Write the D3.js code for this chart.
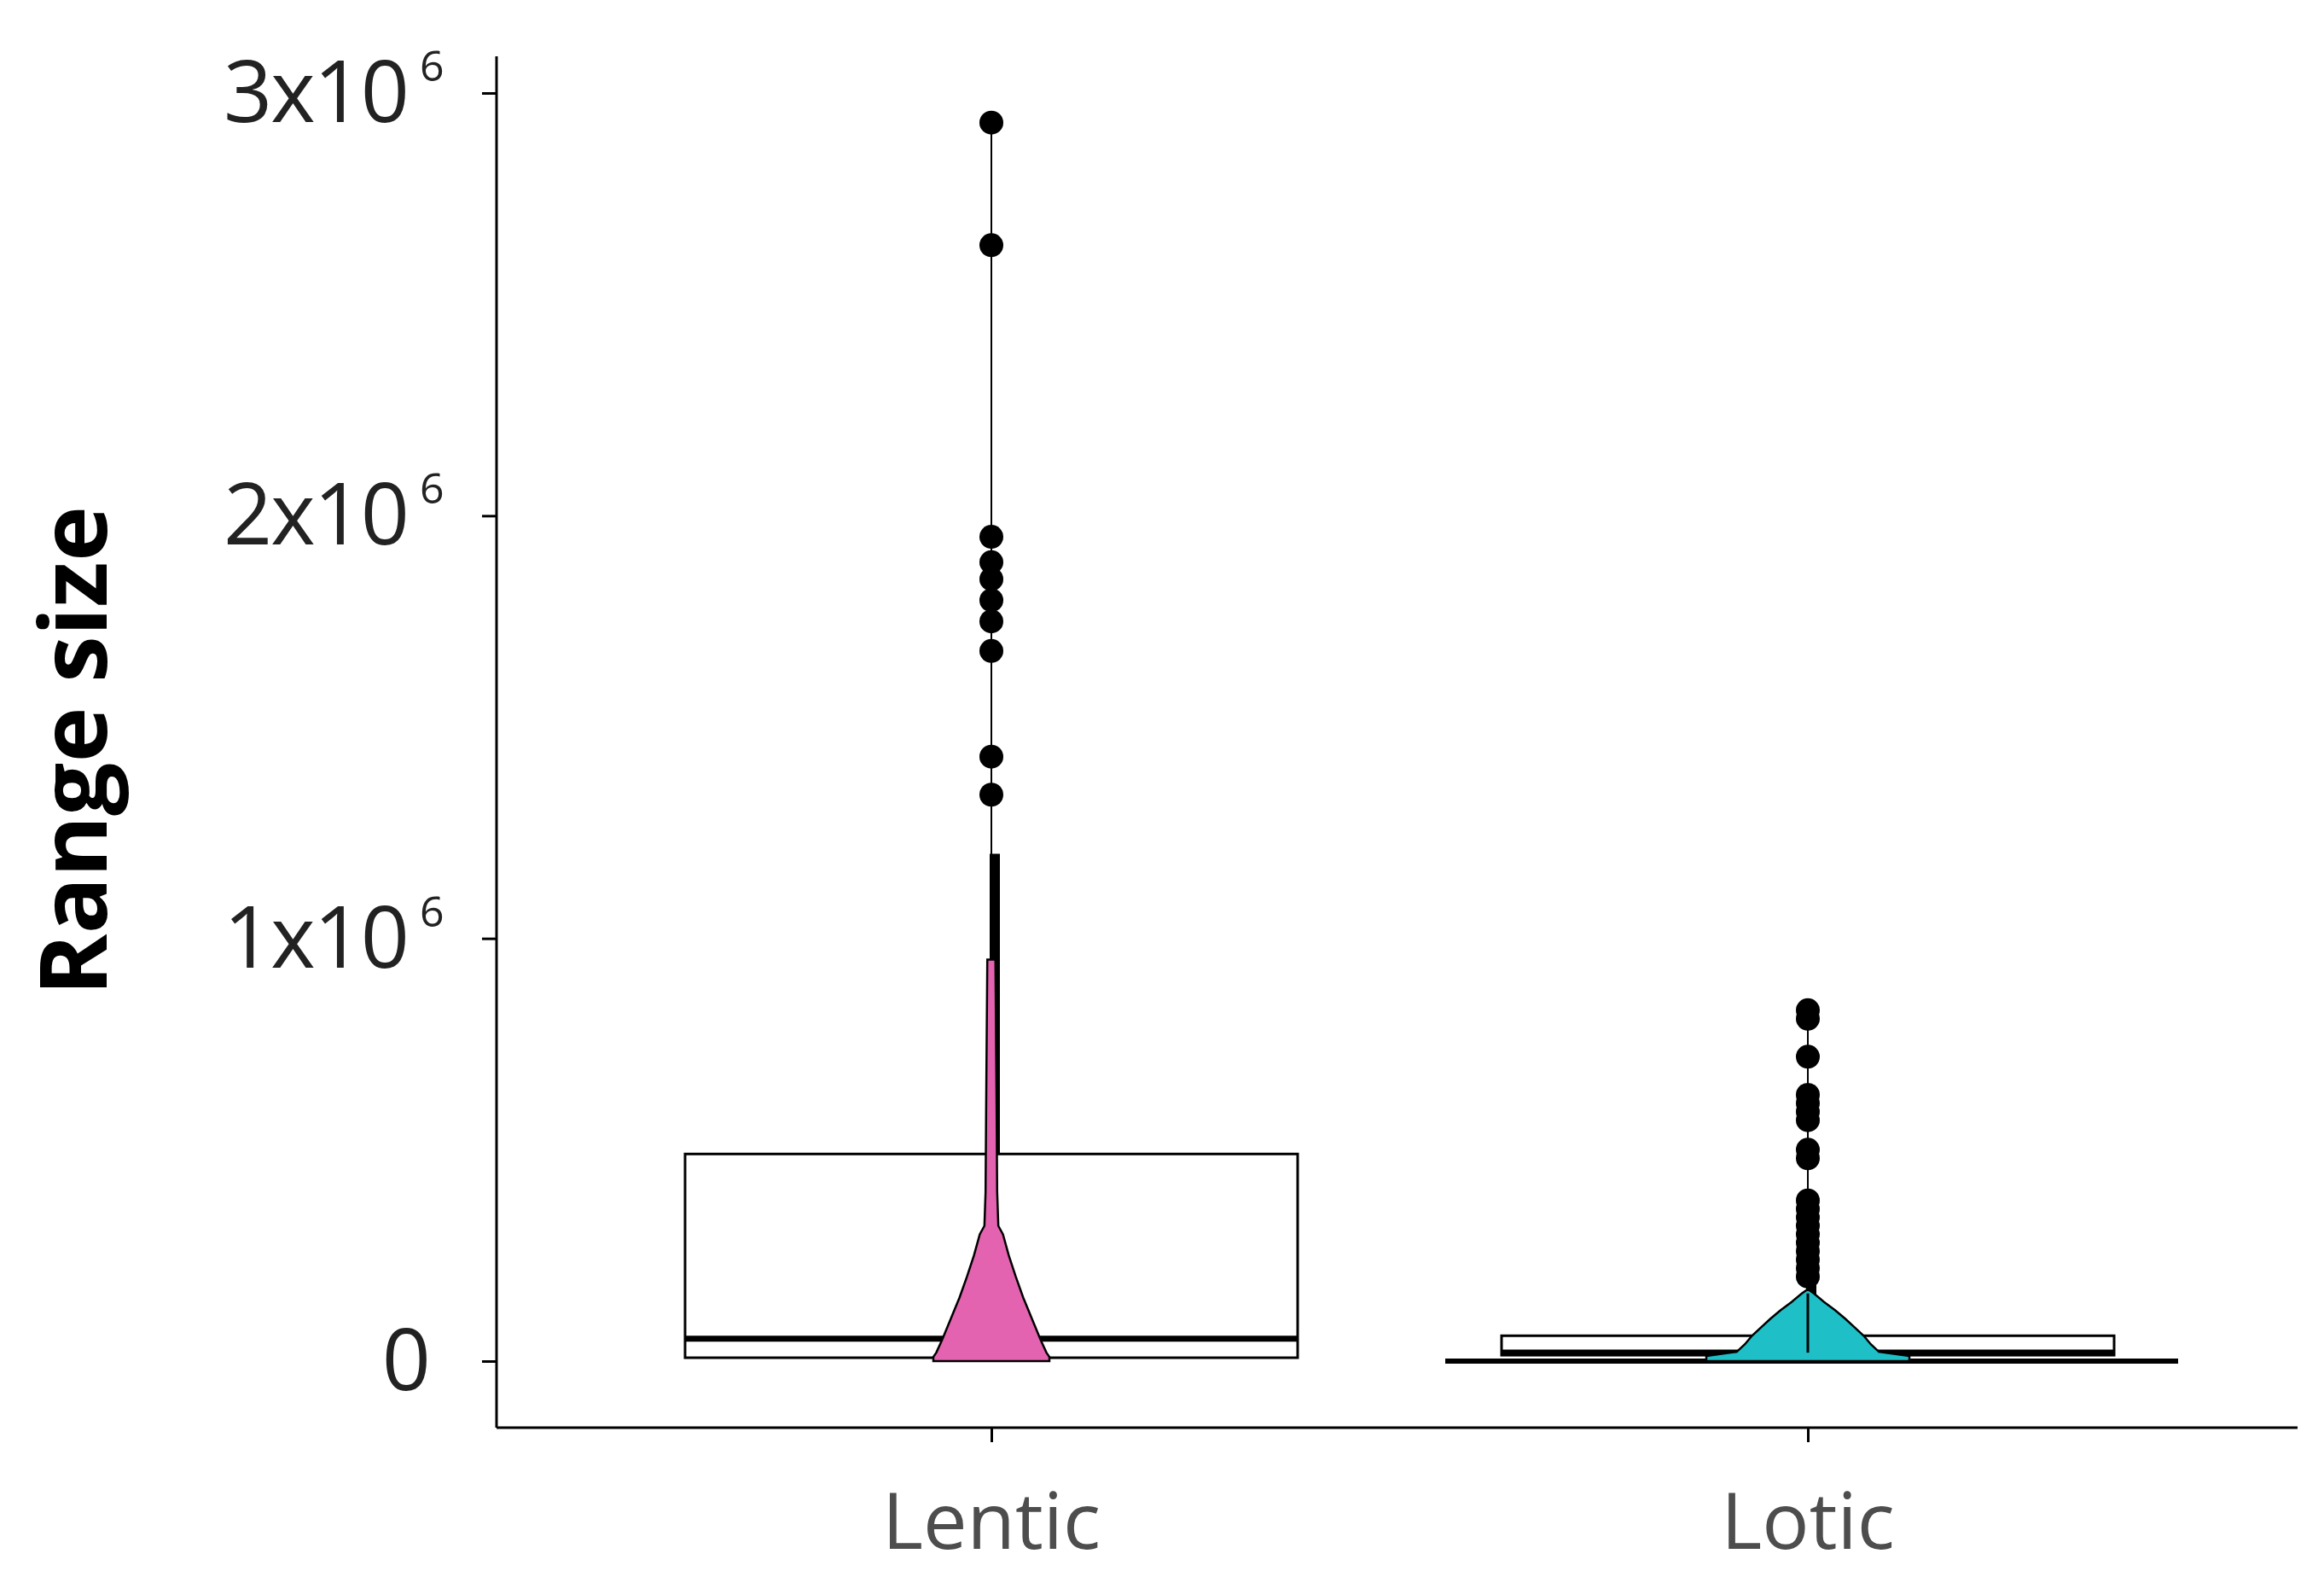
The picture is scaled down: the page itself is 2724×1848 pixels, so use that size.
<!DOCTYPE html>
<html><head><meta charset="utf-8">
<script src="https://cdn.jsdelivr.net/npm/d3@7"></script>
<style>body{margin:0;background:#fff}</style>
</head><body>
<svg id="chart" width="2724" height="1848"></svg>
<script>
// data (values in millions)
var groups = ["Lentic", "Lotic"];
var colors = ["#e463b0", "#1ebfc7"];
var yTicks = [0, 1, 2, 3];
var tickLabels = ["0", "1x10", "2x10", "3x10"];
// box stats [lower, median, upper, whiskerTop]
var lenticBox = [0.008, 0.053, 0.49, 1.2];
var loticBox = [0.014, 0.02, 0.06, 0.2];
var lenticOut = [2.93, 2.64, 1.95, 1.89, 1.85, 1.80, 1.75, 1.68, 1.43, 1.34];
var loticOut = [0.83, 0.81, 0.72, 0.63, 0.61, 0.59, 0.57, 0.50, 0.48, 0.38, 0.36, 0.34, 0.32, 0.30, 0.28, 0.26, 0.24, 0.22, 0.20];
// violin outlines: value, relative half-width
var lenticViolinY = [0, 0.01, 0.02, 0.05, 0.10, 0.15, 0.20, 0.25, 0.30, 0.32, 0.40, 0.60, 0.95];
var lenticViolinW = [1.0, 1.0, 0.95, 0.85, 0.70, 0.55, 0.42, 0.30, 0.20, 0.12, 0.10, 0.09, 0.07];
var loticViolinY = [0, 0.012, 0.022, 0.04, 0.06, 0.08, 0.10, 0.12, 0.14, 0.16, 0.17];
var loticViolinW = [1.0, 1.0, 0.7, 0.62, 0.55, 0.46, 0.37, 0.27, 0.16, 0.06, 0.0];

var svg = d3.select("#chart");
var y = d3.scaleLinear().domain([0, 3]).range([1595, 109]);
var x = d3.scalePoint().domain(groups).range([1162, 2119]);
var font = "'Open Sans', sans-serif";

// axes
var ya = svg.append("g").attr("transform", "translate(582,0)")
  .call(d3.axisLeft(y).tickValues(yTicks).tickSize(17).tickFormat(""));
ya.select(".domain").attr("d", "M0,66V1673");
ya.selectAll("line,path").attr("stroke", "#000").attr("stroke-width", 3);
var xa = svg.append("g").attr("transform", "translate(0,1673)")
  .call(d3.axisBottom(x).tickSize(17).tickFormat(""));
xa.select(".domain").attr("d", "M582,0H2693");
xa.selectAll("line,path").attr("stroke", "#000").attr("stroke-width", 3);

yTicks.forEach(function(t, i){
  svg.append("text").attr("x", i ? 478 : 505).attr("y", y(t) + 34)
    .attr("text-anchor", "end").attr("font-family", font).attr("font-size", 100).attr("fill", "#222")
    .attr("letter-spacing", i ? -2 : 0).text(tickLabels[i]);
  if (i) svg.append("text").attr("x", 492).attr("y", y(t) - 14).attr("font-family", font)
    .attr("font-size", 50).attr("fill", "#222").text("6");
});
groups.forEach(function(g){
  svg.append("text").attr("x", x(g)).attr("y", 1815).attr("text-anchor", "middle")
    .attr("font-family", font).attr("font-size", 92).attr("fill", "#4d4d4d").text(g);
});
svg.append("text").attr("transform", "translate(125,880) rotate(-90)").attr("text-anchor", "middle")
  .attr("font-family", font).attr("font-weight", "bold").attr("font-size", 110).attr("fill", "#000").text("Range size");

function drawGroup(g, box, halfBox, outs, vy, vw, vhalf, color, thickTop){
  var cx = x(g);
  // box
  svg.append("rect").attr("x", cx - halfBox).attr("width", 2 * halfBox)
    .attr("y", y(box[2])).attr("height", y(box[0]) - y(box[2]))
    .attr("fill", "#fff").attr("stroke", "#000").attr("stroke-width", 3);
  svg.append("line").attr("x1", cx - halfBox).attr("x2", cx + halfBox).attr("y1", y(box[1])).attr("y2", y(box[1]))
    .attr("stroke", "#000").attr("stroke-width", 7);
  // whisker thin line to top outlier, thick part over dense points
  svg.append("line").attr("x1", cx).attr("x2", cx).attr("y1", y(box[2])).attr("y2", y(d3.max(outs)))
    .attr("stroke", "#000").attr("stroke-width", 2);
  svg.append("line").attr("x1", cx + 4).attr("x2", cx + 4).attr("y1", y(box[2])).attr("y2", y(box[3]))
    .attr("stroke", "#000").attr("stroke-width", thickTop);
  // violin
  var pts = vy.map(function(v, i){ return [cx + vw[i] * vhalf, y(v)]; })
    .concat(vy.slice().reverse().map(function(v, i){ return [cx - vw[vw.length - 1 - i] * vhalf, y(v)]; }));
  svg.append("path").attr("d", d3.line().curve(d3.curveLinear)(pts) + "Z")
    .attr("fill", color).attr("stroke", "#000").attr("stroke-width", 2.5);
  svg.selectAll(null).data(outs).enter().append("circle")
    .attr("cx", cx).attr("cy", function(d){ return y(d); }).attr("r", 14).attr("fill", "#000");
}

drawGroup("Lentic", lenticBox, 359, lenticOut, lenticViolinY, lenticViolinW, 68, colors[0], 12);
// lotic baseline bar
svg.append("line").attr("x1", 1694).attr("x2", 2553).attr("y1", y(0)).attr("y2", y(0))
  .attr("stroke", "#000").attr("stroke-width", 6);
drawGroup("Lotic", loticBox, 359, loticOut, loticViolinY, loticViolinW, 119, colors[1], 12);
svg.append("line").attr("x1", x("Lotic")).attr("x2", x("Lotic")).attr("y1", y(0.02)).attr("y2", y(0.16))
  .attr("stroke", "#000").attr("stroke-width", 3);
</script>
</body></html>
